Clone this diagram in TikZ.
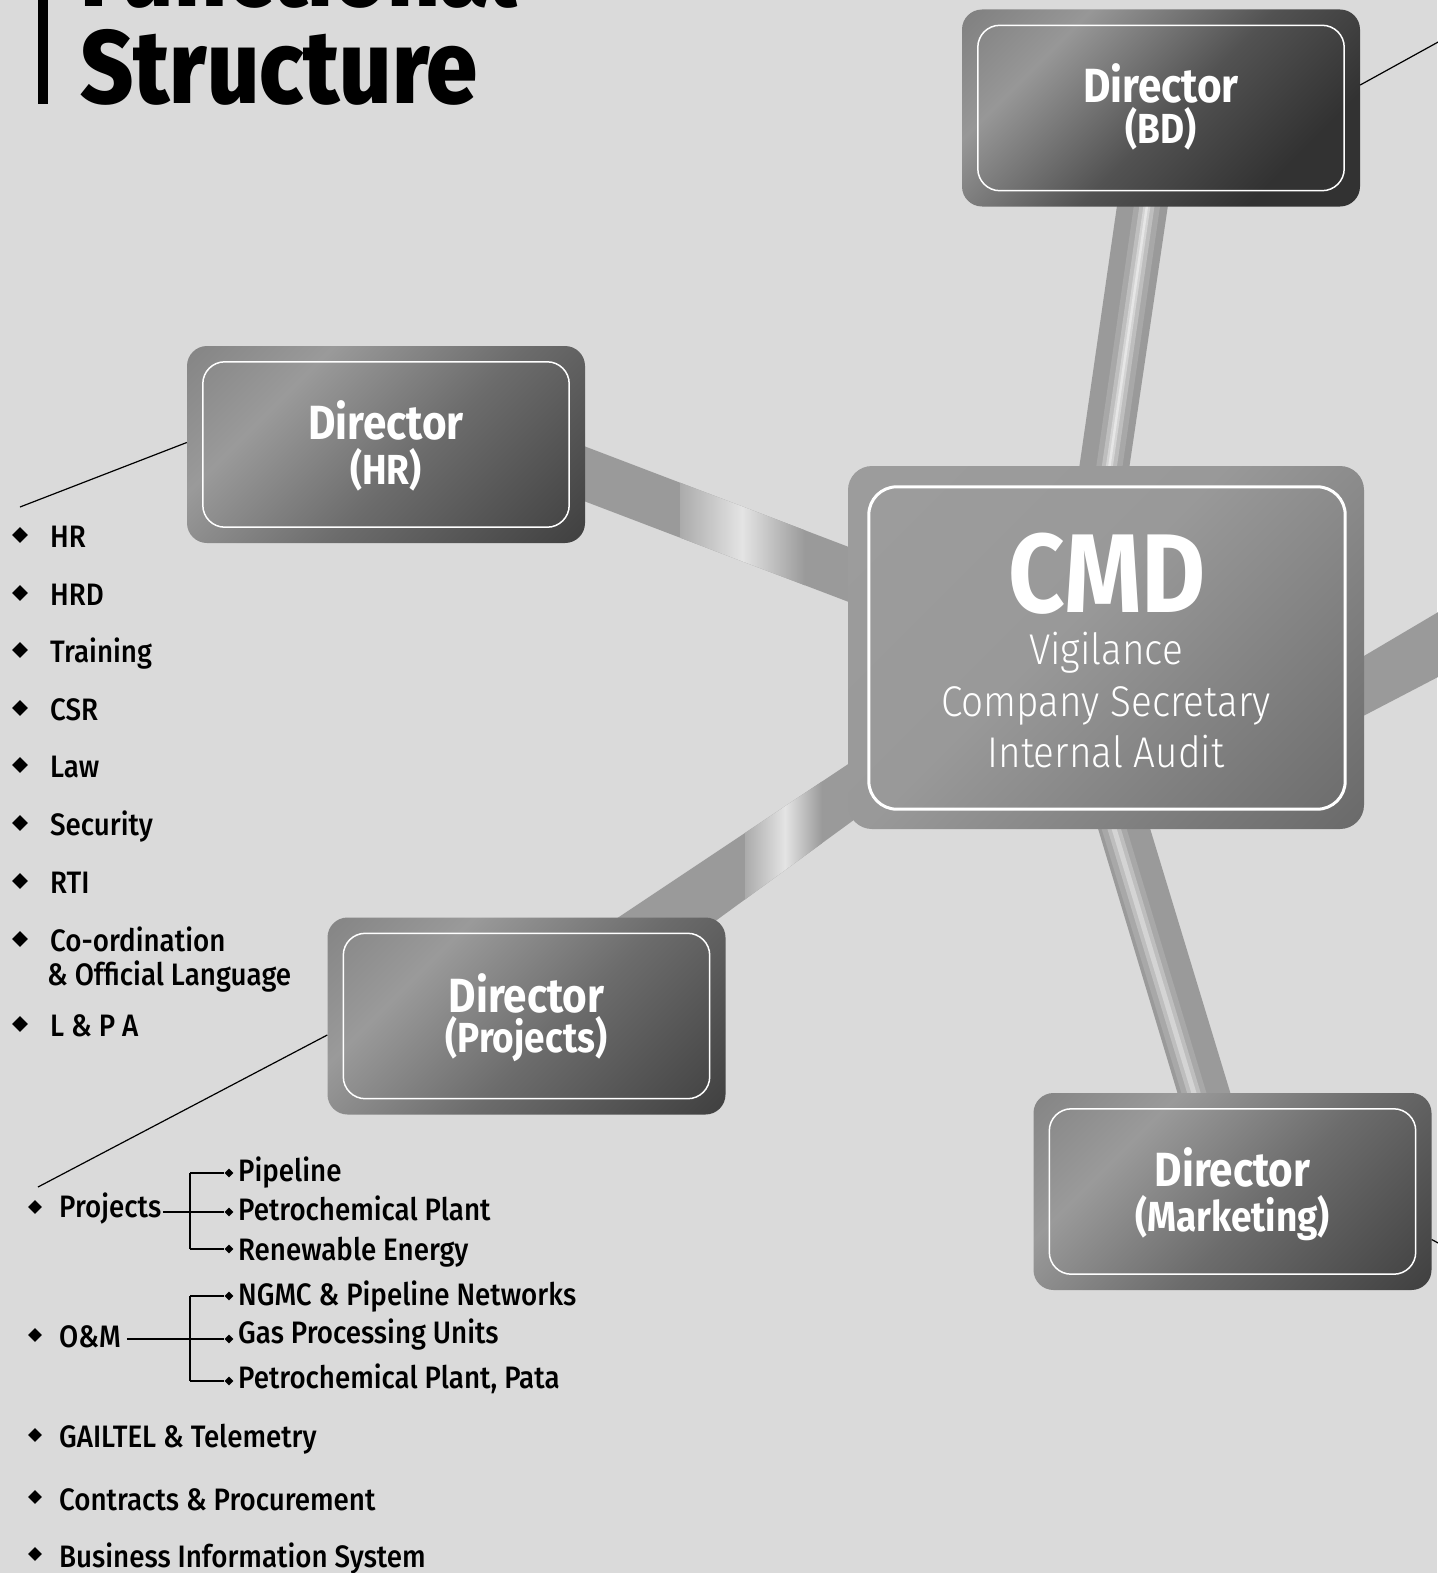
\documentclass[tikz,border=0pt]{standalone}
\usepackage{fontspec}
\setmainfont{Fira Sans}[FakeStretch=0.88]
\newfontfamily\lightfont{Fira Sans Light}[FakeStretch=0.9]
\newfontfamily\medfont{Fira Sans Medium}[FakeStretch=0.895]
\newfontfamily\heavyfont{Fira Sans ExtraBold}[FakeStretch=0.885]
\usetikzlibrary{shapes.geometric,calc}
\pgfdeclarelayer{back}
\pgfdeclarelayer{beams}
\pgfsetlayers{back,beams,main}

\definecolor{bgc}{HTML}{DADADA}
\definecolor{beamc}{HTML}{9A9A9A}
\definecolor{beamb}{HTML}{ABABAB}
\definecolor{beamhi}{HTML}{E4E4E4}
\definecolor{hA}{HTML}{858585}
\definecolor{hB}{HTML}{9A9A9A}
\definecolor{hC}{HTML}{6C6C6C}
\definecolor{hD}{HTML}{404040}
\definecolor{bA}{HTML}{808080}
\definecolor{bB}{HTML}{979797}
\definecolor{bC}{HTML}{525252}
\definecolor{bD}{HTML}{323232}
\definecolor{cA}{HTML}{9C9C9C}
\definecolor{cB}{HTML}{999999}
\definecolor{cC}{HTML}{6A6A6A}
\definecolor{hl1}{HTML}{A8A8A8}
\definecolor{hl2}{HTML}{BEBEBE}
\definecolor{hl3}{HTML}{D4D4D4}
\definecolor{hl4}{HTML}{E6E6E6}

\pgfdeclarehorizontalshading{dirshade}{100bp}{color(0bp)=(hA); color(15bp)=(hA); color(32bp)=(hB); color(55bp)=(hC); color(85bp)=(hD); color(100bp)=(hD)}
\pgfdeclarehorizontalshading{bdshade}{100bp}{color(0bp)=(bA); color(15bp)=(bA); color(30bp)=(bB); color(52bp)=(bC); color(72bp)=(bD); color(100bp)=(bD)}
\pgfdeclarehorizontalshading{cmdshade}{100bp}{color(0bp)=(cA); color(20bp)=(cA); color(45bp)=(cB); color(85bp)=(cC); color(100bp)=(cC)}

\tikzset{
  dirbox/.style={shade, shading=dirshade, shading angle=-45, rectangle, rounded corners=20pt,
    minimum width=398pt, minimum height=197pt, inner sep=0pt},
  frame/.style={draw=white, line width=1.5pt, rounded corners=22pt},
  dtitle/.style={anchor=base, inner sep=0pt, text=white, font=\fontsize{48}{48}\selectfont\bfseries},
  dsub/.style={anchor=base, inner sep=0pt, text=white, font=\fontsize{42}{42}\selectfont\bfseries},
  cmdsub/.style={anchor=base, inner sep=0pt, text=white, font=\fontsize{43}{43}\selectfont\lightfont},
  ttl/.style={anchor=base west, inner sep=0pt, text=black, font=\fontsize{104}{104}\selectfont\heavyfont},
  item/.style={anchor=base west, inner sep=0pt, text=black, font=\fontsize{31}{36}\selectfont\medfont},
  bul/.style={diamond, fill=black, inner sep=0pt, minimum size=16pt},
  bulb/.style={diamond, fill=black, inner sep=0pt, minimum size=14pt},
  sbul/.style={diamond, fill=black, inner sep=0pt, minimum size=9pt},
  thinline/.style={draw=black, line width=1.2pt},
  treeline/.style={draw=black, line width=1.3pt},
}

\begin{document}
\begin{tikzpicture}[x=1pt,y=-1pt]
\useasboundingbox (0,0) rectangle (1437,1573);
\begin{pgfonlayer}{back}
\fill[bgc] (0,0) rectangle (1437,1573);
\end{pgfonlayer}

% ---------- title ----------
\fill[black] (38,-5) rectangle (48,104);
\node[ttl] (t1) at (80,7) {Functional};
\node[ttl] (t2) at (80,104) {Structure};

% ---------- boxes ----------
\node[dirbox, shading=bdshade] (bd) at (1161,108) {};
\draw[frame] ([shift={(16,16)}]bd.north west) rectangle ([shift={(-16,-16)}]bd.south east);
\node[dtitle] (bdt1) at ($(bd.north)+(0,93)$) {Director};
\node[dsub] (bdt2) at ($(bd.north)+(0,134)$) {(BD)};

\node[dirbox] (hr) at (386,444.5) {};
\draw[frame] ([shift={(16,16)}]hr.north west) rectangle ([shift={(-16,-16)}]hr.south east);
\node[dtitle] (hrt1) at ($(hr.north)+(0,94)$) {Director};
\node[dsub] (hrt2) at ($(hr.north)+(0,139)$) {(HR)};

\node[dirbox] (proj) at (526.5,1016) {};
\draw[frame] ([shift={(16,16)}]proj.north west) rectangle ([shift={(-16,-16)}]proj.south east);
\node[dtitle] (pjt1) at ($(proj.north)+(0,95)$) {Director};
\node[dsub] (pjt2) at ($(proj.north)+(0,135)$) {(Projects)};

\node[dirbox] (mkt) at (1232.5,1191.5) {};
\draw[frame] ([shift={(16,16)}]mkt.north west) rectangle ([shift={(-16,-16)}]mkt.south east);
\node[dtitle] (mkt1) at ($(mkt.north)+(0,94)$) {Director};
\node[dsub] (mkt2) at ($(mkt.north)+(0,139)$) {(Marketing)};

\node[shade, shading=cmdshade, shading angle=-45, rectangle, rounded corners=24pt,
  minimum width=516pt, minimum height=363pt, inner sep=0pt] (cmd) at (1106,647.5) {};
\draw[draw=white, line width=3pt, rounded corners=28pt] ([shift={(21,21)}]cmd.north west) rectangle ([shift={(-19,-20)}]cmd.south east);
\node[anchor=base, inner sep=0pt, text=white, font=\fontsize{112}{112}\selectfont\bfseries] (cmdt) at ($(cmd.north)+(1,147)$) {CMD};
\node[cmdsub] (c1) at ($(cmd.north)+(0,199)$) {Vigilance};
\node[cmdsub] (c2) at ($(cmd.north)+(0,251)$) {Company Secretary};
\node[cmdsub] (c3) at ($(cmd.north)+(0,302)$) {Internal Audit};

% ---------- beams ----------
\begin{pgfonlayer}{beams}
% HR -- CMD
\coordinate (hb1) at ($(hr.east)+(-25,-7.5)$);
\coordinate (hb2) at ($(cmd.west)+(22,-92.5)$);
\coordinate (hb3) at ($(cmd.west)+(22,-37.5)$);
\coordinate (hb4) at ($(hr.east)+(-25,47.5)$);
\fill[beamc] (hb1) -- (hb2) -- (hb3) -- (hb4) -- cycle;
\begin{scope}
\clip (hb1) -- (hb2) -- (hb3) -- (hb4) -- cycle;
\shade[left color=beamb, right color=beamhi] (680,380) rectangle (742,660);
\shade[left color=beamhi, right color=beamc] (742,380) rectangle (805,660);
\end{scope}
% BD -- CMD
\coordinate (bb1) at ($(bd.south)+(-41,-22)$);
\coordinate (bb2) at ($(bd.south)+(10,-22)$);
\coordinate (bb3) at ($(cmd.north)+(20,24)$);
\coordinate (bb4) at ($(cmd.north)+(-30,24)$);
\coordinate (bh1) at ($(bd.south)+(-11,-22)$);
\coordinate (bh2) at ($(cmd.north)+(0,24)$);
\fill[beamc] (bb1) -- (bb2) -- (bb3) -- (bb4) -- cycle;
\begin{scope}
\clip (bb1) -- (bb2) -- (bb3) -- (bb4) -- cycle;
\draw[line width=26pt, color=hl1] (bh1) -- (bh2);
\draw[line width=15pt, color=hl2] (bh1) -- (bh2);
\draw[line width=7pt, color=hl3] (bh1) -- (bh2);
\draw[line width=2.5pt, color=hl4] (bh1) -- (bh2);
\end{scope}
% CMD -- Marketing
\coordinate (mb1) at ($(cmd.south)+(-15,-24)$);
\coordinate (mb2) at ($(cmd.south)+(37,-24)$);
\coordinate (mb3) at ($(mkt.north)+(4.5,22)$);
\coordinate (mb4) at ($(mkt.north)+(-48.5,22)$);
\coordinate (mh1) at ($(cmd.south)+(1,-24)$);
\coordinate (mh2) at ($(mkt.north)+(-32,22)$);
\fill[beamc] (mb1) -- (mb2) -- (mb3) -- (mb4) -- cycle;
\begin{scope}
\clip (mb1) -- (mb2) -- (mb3) -- (mb4) -- cycle;
\draw[line width=24pt, color=hl1] (mh1) -- (mh2);
\draw[line width=13pt, color=hl2] (mh1) -- (mh2);
\draw[line width=5pt, color=hl3] (mh1) -- (mh2);
\end{scope}
% Projects -- CMD
\coordinate (pb1) at ($(proj.north)+(57.5,23)$);
\coordinate (pb2) at ($(cmd.west)+(32,95.5)$);
\coordinate (pb3) at ($(cmd.west)+(32,153.5)$);
\coordinate (pb4) at ($(proj.north)+(162.5,23)$);
\fill[beamc] (pb1) -- (pb2) -- (pb3) -- (pb4) -- cycle;
\begin{scope}
\clip (pb1) -- (pb2) -- (pb3) -- (pb4) -- cycle;
\shade[left color=beamb, right color=beamhi] (745,700) rectangle (785,960);
\shade[left color=beamhi, right color=beamc] (785,700) rectangle (822,960);
\end{scope}
% CMD -- right edge
\coordinate (rb1) at ($(cmd.east)+(-24,22.5)$);
\coordinate (rb2) at (1440,611);
\coordinate (rb3) at (1440,676);
\coordinate (rb4) at ($(cmd.east)+(-24,80.5)$);
\fill[beamc] (rb1) -- (rb2) -- (rb3) -- (rb4) -- cycle;
\end{pgfonlayer}

% ---------- thin lines ----------
\coordinate (hrEnd) at (20,507);
\draw[thinline] ($(hr.west)+(0,-2)$) -- (hrEnd);
\coordinate (pjEnd) at (38,1187);
\draw[thinline] ($(proj.west)+(0,19)$) -- (pjEnd);
\coordinate (bdEnd) at (1440,41);
\draw[thinline] ($(bd.east)+(0,-23)$) -- (bdEnd);
\coordinate (mkEnd) at (1440,1244);
\draw[thinline] ($(mkt.east)+(0,48)$) -- (mkEnd);

% ---------- HR list ----------
\node[bul] (hd1) at (20,535) {};  \node[item] (hl1) at (50,547) {HR};
\node[bul] (hd2) at (20,593) {};  \node[item] (hl2) at (50,605) {HRD};
\node[bul] (hd3) at (20,650) {};  \node[item] (hl3) at (50,662) {Training};
\node[bul] (hd4) at (20,708) {};  \node[item] (hl4) at (50,720) {CSR};
\node[bul] (hd5) at (20,765) {};  \node[item] (hl5) at (50,777) {Law};
\node[bul] (hd6) at (20,823) {};  \node[item] (hl6) at (50,835) {Security};
\node[bul] (hd7) at (20,881) {};  \node[item] (hl7) at (50,893) {RTI};
\node[bul] (hd8) at (20,939) {};  \node[item] (hl8) at (50,951) {Co-ordination};
\node[item] (hl8b) at (47,985) {\& Official Language};
\node[bul] (hd9) at (20,1024) {}; \node[item] (hl9) at (50,1036) {L \& P A};

% ---------- Projects list ----------
\node[bulb] (pd1) at (35,1207) {}; \node[item] (pjt) at (59,1217) {Projects};
\node[bulb] (pd2) at (35,1335) {}; \node[item] (omt) at (59,1347) {O\&M};
\node[bulb] (pd3) at (35,1435) {}; \node[item] (gt) at (59,1447) {GAILTEL \& Telemetry};
\node[bulb] (pd4) at (35,1497) {}; \node[item] (ct) at (59,1510) {Contracts \& Procurement};
\node[bulb] (pd5) at (35,1554) {}; \node[item] (bt) at (59,1567) {Business Information System};

\node[sbul] (ps1) at (229,1173) {}; \node[item] (pst1) at (238,1181) {Pipeline};
\node[sbul] (ps2) at (229,1212) {}; \node[item] (pst2) at (238,1220) {Petrochemical Plant};
\node[sbul] (ps3) at (229,1249) {}; \node[item] (pst3) at (238,1260) {Renewable Energy};
\node[sbul] (os1) at (229,1296) {}; \node[item] (ost1) at (238,1305) {NGMC \& Pipeline Networks};
\node[sbul] (os2) at (229,1339) {}; \node[item] (ost2) at (238,1343) {Gas Processing Units};
\node[sbul] (os3) at (229,1381) {}; \node[item] (ost3) at (238,1388) {Petrochemical Plant, Pata};

\coordinate (pjv) at (190,1212);
\coordinate (omv) at (190,1339);
\draw[treeline] ($(pjt.east |- ps2)+(2,0)$) -- (ps2.west);
\draw[treeline] (pjv |- ps1) -- (pjv |- ps3);
\draw[treeline] (pjv |- ps1) -- (ps1.west);
\draw[treeline] (pjv |- ps3) -- (ps3.west);
\draw[treeline] ($(omt.east |- os2)+(6,0)$) -- (os2.west);
\draw[treeline] (omv |- os1) -- (omv |- os3);
\draw[treeline] (omv |- os1) -- (os1.west);
\draw[treeline] (omv |- os3) -- (os3.west);
\end{tikzpicture}
\end{document}
